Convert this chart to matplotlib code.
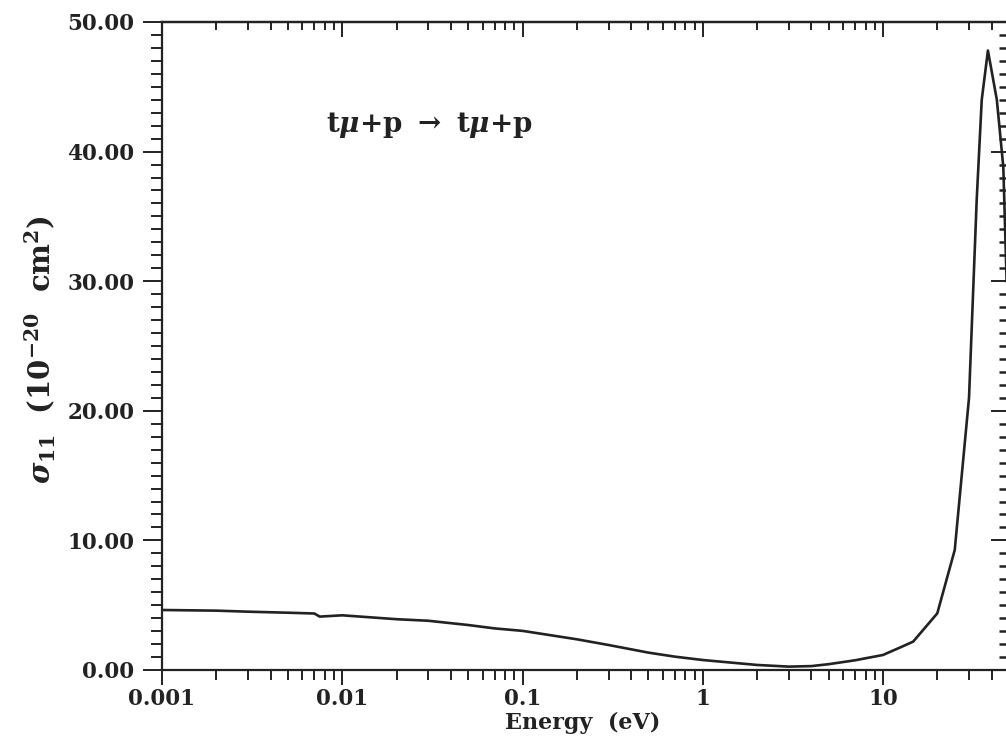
import numpy as np
import matplotlib
matplotlib.use("Agg")
import matplotlib.pyplot as plt
from matplotlib.ticker import LogLocator, MultipleLocator, FixedLocator, NullFormatter

# ========================
# DATA
# ========================
energy_ev = [0.001, 0.002, 0.003, 0.005, 0.007, 0.0075, 0.01, 0.02, 0.03, 0.05,
             0.07, 0.1, 0.2, 0.3, 0.5, 0.7, 1.0, 2.0, 3.0, 4.0,
             5.0, 7.0, 10.0, 12.5, 14.7, 20.0, 25.0, 30.0, 33.1, 35.3,
             38.2, 42.8, 46.5, 48.5]
sigma_11 = [4.63, 4.58, 4.50, 4.42, 4.36, 4.12, 4.22, 3.92, 3.80, 3.47,
            3.21, 3.02, 2.37, 1.93, 1.34, 1.03, 0.77, 0.39, 0.26, 0.30,
            0.45, 0.75, 1.16, 1.75, 2.19, 4.37, 9.26, 21.0, 36.3, 44.0,
            47.8, 44.0, 38.8, 30.0]

x_ticks = [0.001, 0.01, 0.1, 1, 10]
x_ticklabels = ["0.001", "0.01", "0.1", "1", "10"]
y_ticks = [0, 10, 20, 30, 40, 50]
y_ticklabels = ["0.00", "10.00", "20.00", "30.00", "40.00", "50.00"]

# bold serif for the math parts too
plt.rcParams['mathtext.fontset'] = 'custom'
plt.rcParams['mathtext.rm'] = 'DejaVu Serif:bold'
plt.rcParams['mathtext.it'] = 'DejaVu Serif:italic:bold'
plt.rcParams['mathtext.bf'] = 'DejaVu Serif:bold'
plt.rcParams['font.family'] = ['DejaVu Serif']

INK = '#222222'
W, H = 1006, 744
fig = plt.figure(figsize=(W / 100, H / 100), dpi=100)
ax = fig.add_axes([162 / W, 1 - 670 / H, (1009 - 162) / W, (670 - 22) / H])

ax.plot(energy_ev, sigma_11, color=INK, lw=1.9, solid_joinstyle='round')

ax.set_xscale('log')
ax.set_xlim(0.001, 50)
ax.set_ylim(0, 50)

ax.xaxis.set_major_locator(FixedLocator(x_ticks))
ax.set_xticklabels(x_ticklabels)
ax.xaxis.set_minor_locator(LogLocator(base=10, subs=np.arange(2, 10)))
ax.xaxis.set_minor_formatter(NullFormatter())
ax.set_yticks(y_ticks)
ax.set_yticklabels(y_ticklabels)
ax.yaxis.set_minor_locator(MultipleLocator(1))

for sp in ax.spines.values():
    sp.set_linewidth(1.6)
    sp.set_color(INK)

# bottom/left ticks point out, top/right ticks point in
ax.tick_params(axis='both', which='both', color=INK, width=1.4,
               labelsize=15.5, labelcolor=INK)
ax.tick_params(axis='x', which='major', direction='out', length=11, pad=2)
ax.tick_params(axis='x', which='minor', direction='out', length=7)
ax.tick_params(axis='y', which='major', direction='out', length=14, pad=6)
ax.tick_params(axis='y', which='minor', direction='out', length=8)
for lab in ax.get_xticklabels() + ax.get_yticklabels():
    lab.set_fontweight('bold')

top = ax.secondary_xaxis('top')
top.xaxis.set_major_locator(FixedLocator(x_ticks))
top.xaxis.set_minor_locator(LogLocator(base=10, subs=np.arange(2, 10)))
top.xaxis.set_major_formatter(NullFormatter())
top.xaxis.set_minor_formatter(NullFormatter())
top.tick_params(which='major', direction='in', length=11, width=1.4, color=INK)
top.tick_params(which='minor', direction='in', length=6, width=1.4, color=INK)
top.spines['top'].set_linewidth(1.6)

right = ax.secondary_yaxis('right')
right.yaxis.set_major_locator(FixedLocator(y_ticks))
right.yaxis.set_minor_locator(MultipleLocator(1))
right.yaxis.set_major_formatter(NullFormatter())
right.tick_params(which='major', direction='in', length=13, width=1.4, color=INK)
right.tick_params(which='minor', direction='in', length=7, width=1.8, color=INK)

ax.set_xlabel('Energy  (eV)', fontsize=16, fontweight='bold', color=INK)
ax.xaxis.set_label_coords((583 - 162) / (1009 - 162), -(712 - 670) / (670 - 22))
ax.set_ylabel(r'$\sigma_{11}$  (10$^{-20}$  cm$^{2}$)', fontsize=21,
              fontweight='bold', color=INK, va='center')
ax.yaxis.set_label_coords(-(162 - 40) / (1009 - 162), (670 - 350) / (670 - 22))

ax.text((429 - 162) / (1009 - 162), (670 - 125) / (670 - 22),
        r't$\mu$+p $\rightarrow$ t$\mu$+p', transform=ax.transAxes,
        fontsize=20, fontweight='bold', color=INK, va='center', ha='center')

fig.savefig('out.png', dpi=100)
